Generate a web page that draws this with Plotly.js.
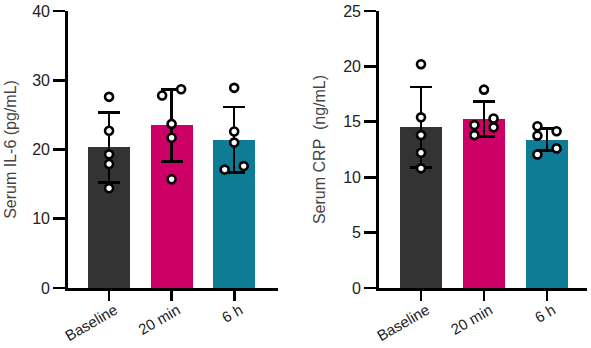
<!DOCTYPE html>
<html><head><meta charset="utf-8">
<script src="https://cdn.plot.ly/plotly-3.0.1.min.js"></script>
<style>html,body{margin:0;padding:0;background:#fff}#chart{width:591px;height:348px}</style>
</head><body><div id="chart"></div>
<script>
const categories = ["Baseline", "20 min", "6 h"];
const barColors = ["#333333", "#cc0066", "#0f7c96"];

const il6Mean = [20.3, 23.5, 21.4];
const il6SD = [5.05, 5.2, 4.75];
const il6Baseline = [27.6, 22.7, 19.3, 17.9, 14.4];
const il6Min20 = [28.7, 27.8, 23.7, 21.7, 15.7];
const il6Hour6 = [28.9, 22.6, 21.0, 17.6, 17.1];

const crpMean = [14.5, 15.25, 13.4];
const crpSD = [3.65, 1.6, 1.0];
const crpBaseline = [20.2, 15.4, 13.8, 12.2, 10.8];
const crpMin20 = [17.9, 15.3, 14.7, 14.5, 13.8];
const crpHour6 = [14.6, 14.15, 13.75, 12.6, 12.05];

const W = 591, H = 348, M = {l: 68, r: 4, t: 11, b: 60};
const plotH = H - M.t - M.b;

// simple beeswarm: points whose neighbours are closer than one marker diameter alternate sides
function swarm(values, center, yMax, spread) {
  const pxPerUnit = plotH / yMax, D = 9.5;
  const idx = values.map((v, i) => i).sort((a, b) => values[a] - values[b]);
  const xs = new Array(values.length).fill(center);
  let side = -1;
  idx.forEach((id, k) => {
    const prev = k > 0 ? idx[k - 1] : null, next = k < idx.length - 1 ? idx[k + 1] : null;
    const close = (prev !== null && Math.abs(values[id] - values[prev]) * pxPerUnit < D) ||
                  (next !== null && Math.abs(values[next] - values[id]) * pxPerUnit < D);
    if (close) { xs[id] = center + side * spread; side = -side; }
  });
  return xs;
}

const font = {family: "Arial, 'Liberation Sans', sans-serif", size: 16, color: "#222"};
const xFont = {family: "Arial, 'Liberation Sans', sans-serif", size: 15, color: "#222"};
const traces = [];
function addPanel(means, sds, groups, yMax, xa, ya) {
  traces.push({
    type: "bar", x: [0, 1, 2], y: means, width: 0.672, xaxis: xa, yaxis: ya,
    marker: {color: barColors, line: {width: 0}},
    error_y: {type: "data", array: sds, visible: true, color: "#000", thickness: 2.6, width: 11},
    hoverinfo: "skip", showlegend: false
  });
  groups.forEach((g, gi) => {
    traces.push({
      type: "scatter", mode: "markers", x: swarm(g, gi, yMax, 0.152), y: g, xaxis: xa, yaxis: ya,
      marker: {size: 8, color: "#fff", line: {color: "#000", width: 2.6}},
      cliponaxis: false, showlegend: false, hoverinfo: "skip"
    });
  });
}
addPanel(il6Mean, il6SD, [il6Baseline, il6Min20, il6Hour6], 40, "x", "y");
addPanel(crpMean, crpSD, [crpBaseline, crpMin20, crpHour6], 25, "x2", "y2");

const xBase = {
  tickvals: [0, 1, 2], ticktext: categories, tickangle: -30, ticklabelshift: 6, ticklabelstandoff: -5,
  ticks: "outside", ticklen: 10, tickwidth: 2.8, tickcolor: "#000",
  showline: true, linewidth: 2.8, linecolor: "#000",
  showgrid: false, zeroline: false, fixedrange: true, automargin: false, tickfont: xFont
};
const yBase = {
  ticks: "outside", ticklen: 12, tickwidth: 2.8, tickcolor: "#000",
  showline: true, linewidth: 2.8, linecolor: "#000",
  showgrid: false, zeroline: false, fixedrange: true, automargin: false, tickfont: font
};
const titleFont = {family: "Arial, 'Liberation Sans', sans-serif", size: 16, color: "#444"};
const layout = {
  width: W, height: H, margin: M, paper_bgcolor: "#fff", plot_bgcolor: "rgba(0,0,0,0)",
  font: font, showlegend: false, bargap: 0,
  xaxis: Object.assign({}, xBase, {domain: [0, 0.4046], range: [-0.656, 2.70], anchor: "y"}),
  yaxis: Object.assign({}, yBase, {domain: [0, 1], range: [0, 40], dtick: 10, anchor: "x",
    title: {text: "Serum IL-6 (pg/mL)", font: titleFont, standoff: 12}}),
  xaxis2: Object.assign({}, xBase, {domain: [0.5992, 1], range: [-0.667, 2.635], anchor: "y2"}),
  yaxis2: Object.assign({}, yBase, {domain: [0, 1], range: [0, 25], dtick: 5, anchor: "x2",
    title: {text: "Serum CRP  (ng/mL)", font: titleFont, standoff: 14}})
};
Plotly.newPlot("chart", traces, layout, {displayModeBar: false, staticPlot: true});
</script></body></html>
